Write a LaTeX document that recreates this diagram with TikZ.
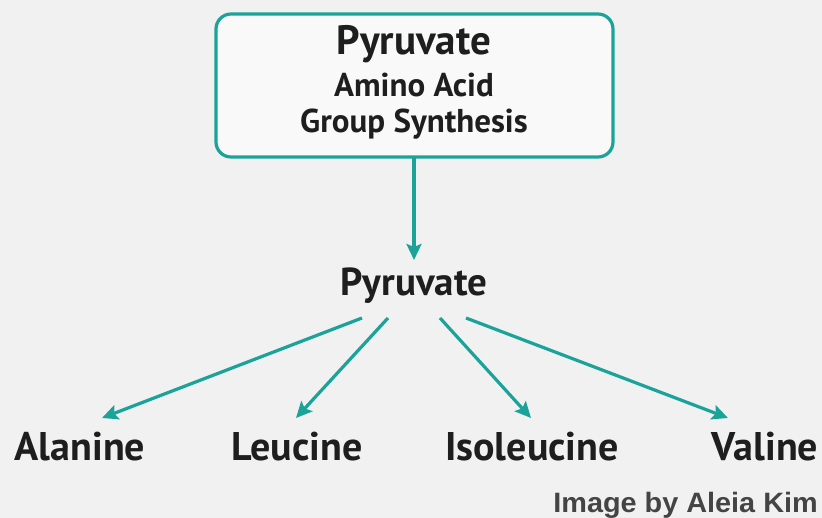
\documentclass[tikz,border=0pt]{standalone}
\usepackage{fontspec}
\setmainfont{PT Sans}
\newfontfamily\creditfont{Liberation Sans}
\usetikzlibrary{arrows.meta}
\definecolor{teal1}{HTML}{1BA39A}
\definecolor{bgc}{HTML}{F1F1F1}
\definecolor{ink}{HTML}{1E1E1E}
\definecolor{credit}{HTML}{444444}
\begin{document}
\begin{tikzpicture}[x=1pt,y=-1pt,
  conn/.style={draw=teal1,line width=3.2pt,-{Stealth[length=16pt,width=15pt,inset=3pt]}},
  lbl/.style={inner sep=0pt,text=ink,font=\bfseries\fontsize{39}{44}\selectfont},
  leaf/.style={lbl,font=\bfseries\fontsize{40}{44}\selectfont},
  boxtxt/.style={inner sep=0pt,text=ink,font=\bfseries\fontsize{33}{38}\selectfont}]
\fill[bgc] (0,0) rectangle (822,518);
\useasboundingbox (0,0) rectangle (822,518);
\draw[teal1,line width=3.2pt,fill=white!60!bgc,rounded corners=15pt] (216,14) rectangle (613,157);
\coordinate (boxb) at (414,157);
\node[boxtxt,font=\bfseries\fontsize{41}{46}\selectfont] (t1) at (414,44) {Pyruvate};
\node[boxtxt] (t2) at (414,85) {Amino Acid};
\node[boxtxt] (t3) at (414,124) {Group Synthesis};
\node[lbl] (pyr) at (414,286) {Pyruvate};
\node[leaf] (ala) at (80,447) {Alanine};
\node[leaf] (leu) at (297,447) {Leucine};
\node[leaf] (iso) at (532,447) {Isoleucine};
\node[leaf] (val) at (765,447) {Valine};
\node[inner sep=0pt,anchor=base east,text=credit,font=\creditfont\bfseries\fontsize{28}{32}\selectfont] (cr) at (818,512) {\scalebox{1.03}[1]{Image by Aleia Kim}};
\coordinate (a1) at (362,318); \coordinate (e1) at (102,418);
\coordinate (a2) at (388,318); \coordinate (e2) at (296,418);
\coordinate (a3) at (440,318); \coordinate (e3) at (531,418);
\coordinate (a4) at (466,318); \coordinate (e4) at (728,418);
\coordinate (e0) at (414,260);
\draw[conn] (boxb) -- (e0);
\draw[conn] (a1) -- (e1);
\draw[conn] (a2) -- (e2);
\draw[conn] (a3) -- (e3);
\draw[conn] (a4) -- (e4);
\end{tikzpicture}
\end{document}
